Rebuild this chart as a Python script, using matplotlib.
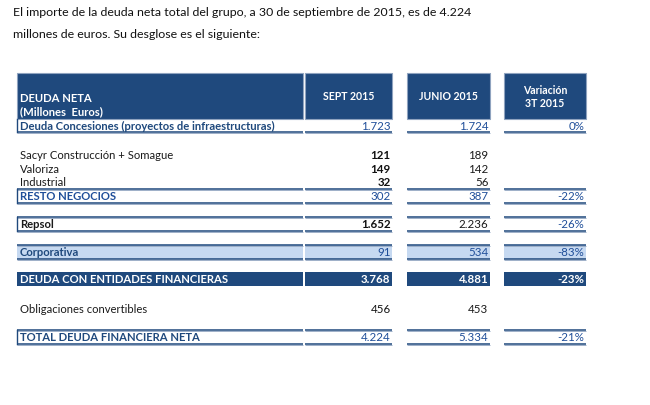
import matplotlib.pyplot as plt
from matplotlib.patches import Rectangle

# Datos de la tabla
conceptos = ['Deuda Concesiones (proyectos de infraestructuras)', 'Sacyr Construcción + Somague',
             'Valoriza', 'Industrial', 'RESTO NEGOCIOS', 'Repsol', 'Corporativa',
             'DEUDA CON ENTIDADES FINANCIERAS', 'Obligaciones convertibles',
             'TOTAL DEUDA FINANCIERA NETA']
sept_2015 = ['1.723', '121', '149', '32', '302', '1.652', '91', '3.768', '456', '4.224']
junio_2015 = ['1.724', '189', '142', '56', '387', '2.236', '534', '4.881', '453', '5.334']
variacion = ['0%', '', '', '', '-22%', '-26%', '-83%', '-23%', '', '-21%']
cabeceras = ['DEUDA NETA\n(Millones  Euros)', 'SEPT 2015', 'JUNIO 2015', 'Variación\n3T 2015']
intro = ['El importe de la deuda neta total del grupo, a 30 de septiembre de 2015, es de 4.224',
         'millones de euros. Su desglose es el siguiente:']

# Estilo de cada fila
estilos = ['caja', 'simple', 'simple', 'simple', 'caja', 'caja', 'claro', 'oscuro', 'simple', 'caja']
y_filas = [126, 156, 170, 183, 197, 225, 253, 280, 310, 338]

AZUL = '#1F497D'
AZUL_CLARO = '#C6D9F1'
AZUL_TXT = '#1F4E99'
LINEA2 = '#9DAFC8'
FUENTE = 'Lato'
TAM = 8.1       # texto de las filas
TAM_NUM = 8.3   # cifras

# Columnas (izquierda, derecha)
cols = [(17, 303), (305, 392), (407, 490), (504, 586)]

fig = plt.figure(figsize=(6.5, 4.06), dpi=100)
ax = fig.add_axes([0, 0, 1, 1])
ax.set_xlim(0, 650)
ax.set_ylim(406, 0)
ax.axis('off')

# Texto introductorio
ax.text(13, 12, intro[0], fontsize=8.9, family=FUENTE, color='#111111', va='center')
ax.text(13, 35, intro[1], fontsize=8.9, family=FUENTE, color='#111111', va='center')

# Cabecera
for i, (x0, x1) in enumerate(cols):
    ax.add_patch(Rectangle((x0, 74), x1 - x0, 46, facecolor=AZUL, edgecolor='#8FA3BF', lw=0.8))
    if i == 0:
        ax.text(x0 + 3, 99, 'DEUDA NETA', fontsize=TAM, family=FUENTE, weight='bold',
                color='white', va='center')
        ax.text(x0 + 3, 112, '(Millones  Euros)', fontsize=TAM, family=FUENTE, weight='bold',
                color='white', va='center')
    else:
        ax.text((x0 + x1) / 2, 97, cabeceras[i], fontsize=7.6, family=FUENTE, weight='bold',
                color='white', va='center', ha='center', linespacing=1.3)


def linea(y, x0, x1, color=AZUL):
    ax.plot([x0, x1], [y, y], color=color, lw=1.1, solid_capstyle='butt')
    ax.plot([x0, x1], [y + 1.3, y + 1.3], color=LINEA2, lw=0.7, solid_capstyle='butt')


for k, nombre in enumerate(conceptos):
    y = y_filas[k]
    estilo = estilos[k]
    top, bot = y - 7, y + 7
    color_lbl = '#1a1a1a'
    color_val = '#1a1a1a'
    peso_lbl = 'normal'
    negrita_sept = False

    if estilo == 'caja':
        if k == 0:
            top = 120
        else:
            for x0, x1 in cols:
                linea(top, x0, x1)
        for x0, x1 in cols:
            linea(bot, x0, x1)
        ax.plot([cols[0][0], cols[0][0]], [top, bot], color=AZUL, lw=1)
        if nombre.startswith('Repsol'):
            peso_lbl = 'bold'
            negrita_sept = True
            color_val = AZUL_TXT
        else:
            color_lbl = AZUL if k != 4 else AZUL_TXT
            color_val = AZUL_TXT
            peso_lbl = 'bold'
    elif estilo == 'claro':
        for x0, x1 in cols:
            ax.add_patch(Rectangle((x0, top), x1 - x0, bot - top, facecolor=AZUL_CLARO, lw=0))
            linea(top, x0, x1)
            linea(bot, x0, x1)
        color_lbl = AZUL
        color_val = AZUL_TXT
        peso_lbl = 'bold'
    elif estilo == 'oscuro':
        for x0, x1 in cols:
            ax.add_patch(Rectangle((x0, top), x1 - x0, bot - top, facecolor=AZUL, lw=0))
        color_lbl = 'white'
        color_val = 'white'
        peso_lbl = 'bold'
    else:
        negrita_sept = k in (1, 2, 3)

    ax.text(cols[0][0] + 3, y, nombre, fontsize=TAM, family=FUENTE, weight=peso_lbl,
            color=color_lbl, va='center')
    # Valores
    c_sept = '#111111' if (negrita_sept or estilo == 'simple') else color_val
    c_jun = '#1a1a1a' if (estilo == 'simple' or nombre.startswith('Repsol')) else color_val
    ax.text(cols[1][1] - 1.5, y, sept_2015[k], fontsize=TAM_NUM, family=FUENTE, ha='right', va='center',
            weight='bold' if negrita_sept or estilo == 'oscuro' else 'normal', color=c_sept)
    ax.text(cols[2][1] - 1.5, y, junio_2015[k], fontsize=TAM_NUM, family=FUENTE, ha='right', va='center',
            weight='bold' if estilo == 'oscuro' else 'normal', color=c_jun)
    if variacion[k]:
        ax.text(cols[3][1] - 1.5, y, variacion[k], fontsize=TAM_NUM, family=FUENTE, ha='right', va='center',
                weight='bold' if estilo == 'oscuro' else 'normal', color=color_val)

fig.savefig('out.png', dpi=100)
